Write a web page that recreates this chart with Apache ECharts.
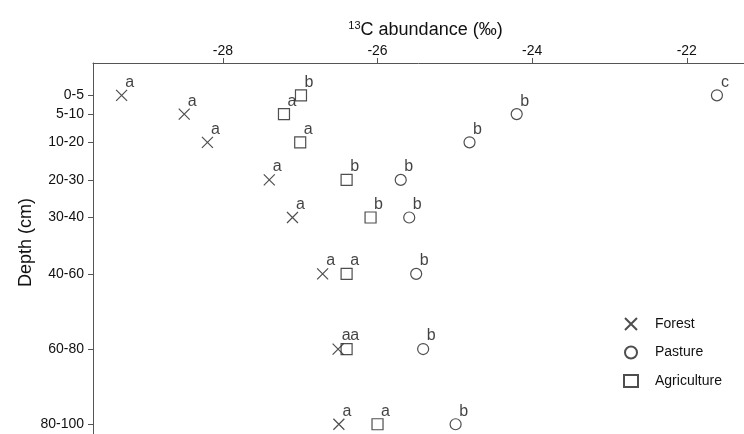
<!DOCTYPE html>
<html>
<head>
<meta charset="utf-8">
<script src="https://cdn.jsdelivr.net/npm/echarts@6/dist/echarts.min.js"></script>
<style>
* { margin: 0; padding: 0; }
body { background: #fff; }
#main { width: 744px; height: 434px; }
</style>
</head>
<body>
<!-- chart container -->
<div id="main"></div>
<script>
// depth classes, plotted at their midpoints (cm)
var depthLabels = ['0-5', '5-10', '10-20', '20-30', '30-40', '40-60', '60-80', '80-100'];
var depthMid = [2.5, 7.5, 15, 25, 35, 50, 70, 90];
var xTicks = [-28, -26, -24, -22];

// 13C values
var forest = [-29.31, -28.50, -28.20, -27.40, -27.10, -26.71, -26.51, -26.50];
var pasture = [-21.61, -24.20, -24.81, -25.70, -25.59, -25.50, -25.41, -24.99];
var agriculture = [-26.99, -27.21, -27.00, -26.40, -26.09, -26.40, -26.40, -26.00];

// significance letters
var forestLetters = ['a', 'a', 'a', 'a', 'a', 'a', 'a', 'a'];
var pastureLetters = ['c', 'b', 'b', 'b', 'b', 'b', 'b', 'b'];
var agricultureLetters = ['b', 'a', 'a', 'b', 'b', 'a', 'a', 'a'];

var FONT = 'Liberation Sans, Arial, sans-serif';
var crossPath = 'path://M0,0L10,10M10,0L0,10';

function pairs(vals) {
  return vals.map(function (v, i) { return [v, depthMid[i]]; });
}

function makeSeries(name, vals, letters, symbol, size) {
  return {
    name: name,
    type: 'scatter',
    data: pairs(vals),
    symbol: symbol,
    symbolSize: size,
    itemStyle: { color: 'transparent', borderColor: '#222', borderWidth: 1.2 },
    label: {
      show: true,
      position: 'inside',
      offset: [8, -13],
      color: '#111',
      fontFamily: FONT,
      fontSize: 16,
      formatter: function (p) { return letters[p.dataIndex]; }
    },
    emphasis: { disabled: true }
  };
}

var chart = echarts.init(document.getElementById('main'));
chart.setOption({
  animation: false,
  backgroundColor: '#fff',
  textStyle: { fontFamily: FONT },
  grid: { left: 93, top: 63, right: 0, bottom: 0 },
  xAxis: {
    type: 'value',
    position: 'top',
    min: -29.68,
    max: -21.26,
    name: '{sup|13}{main|C abundance (‰)}',
    nameLocation: 'middle',
    nameGap: 23,
    nameTextStyle: {
      padding: [0, 0, 0, 14],
      rich: {
        sup: { fontSize: 11, color: '#111', fontFamily: FONT, padding: [0, 0, 9, 0] },
        main: { fontSize: 18, color: '#111', fontFamily: FONT }
      }
    },
    axisLine: { show: true, onZero: false, lineStyle: { color: '#555', width: 1 } },
    axisTick: { show: true, length: 5, customValues: xTicks, lineStyle: { color: '#555' } },
    axisLabel: { customValues: xTicks, color: '#111', fontSize: 14, margin: 5 },
    splitLine: { show: false }
  },
  yAxis: {
    type: 'value',
    inverse: true,
    min: -6.1,
    max: 92.6,
    name: 'Depth (cm)',
    nameLocation: 'middle',
    nameGap: 58,
    nameMoveOverlap: false,
    nameTextStyle: { fontSize: 18, color: '#111', padding: [0, 0, 0, 12] },
    axisLine: { show: true, onZero: false, lineStyle: { color: '#555', width: 1 } },
    axisTick: { show: true, length: 5, customValues: depthMid, lineStyle: { color: '#555' } },
    axisLabel: {
      customValues: depthMid,
      color: '#111',
      fontSize: 14,
      margin: 9,
      formatter: function (v) {
        var i = depthMid.indexOf(v);
        return i >= 0 ? depthLabels[i] : '';
      }
    },
    splitLine: { show: false }
  },
  legend: {
    orient: 'vertical',
    left: 618,
    top: 312,
    itemWidth: 14,
    itemHeight: 12,
    itemGap: 14.5,
    textStyle: { fontSize: 14, color: '#111', padding: [0, 0, 0, 12] },
    data: ['Forest', 'Pasture', 'Agriculture']
  },
  series: [
    makeSeries('Forest', forest, forestLetters, crossPath, 11),
    makeSeries('Pasture', pasture, pastureLetters, 'circle', 11),
    makeSeries('Agriculture', agriculture, agricultureLetters, 'rect', 11)
  ]
});
</script>
</body>
</html>
